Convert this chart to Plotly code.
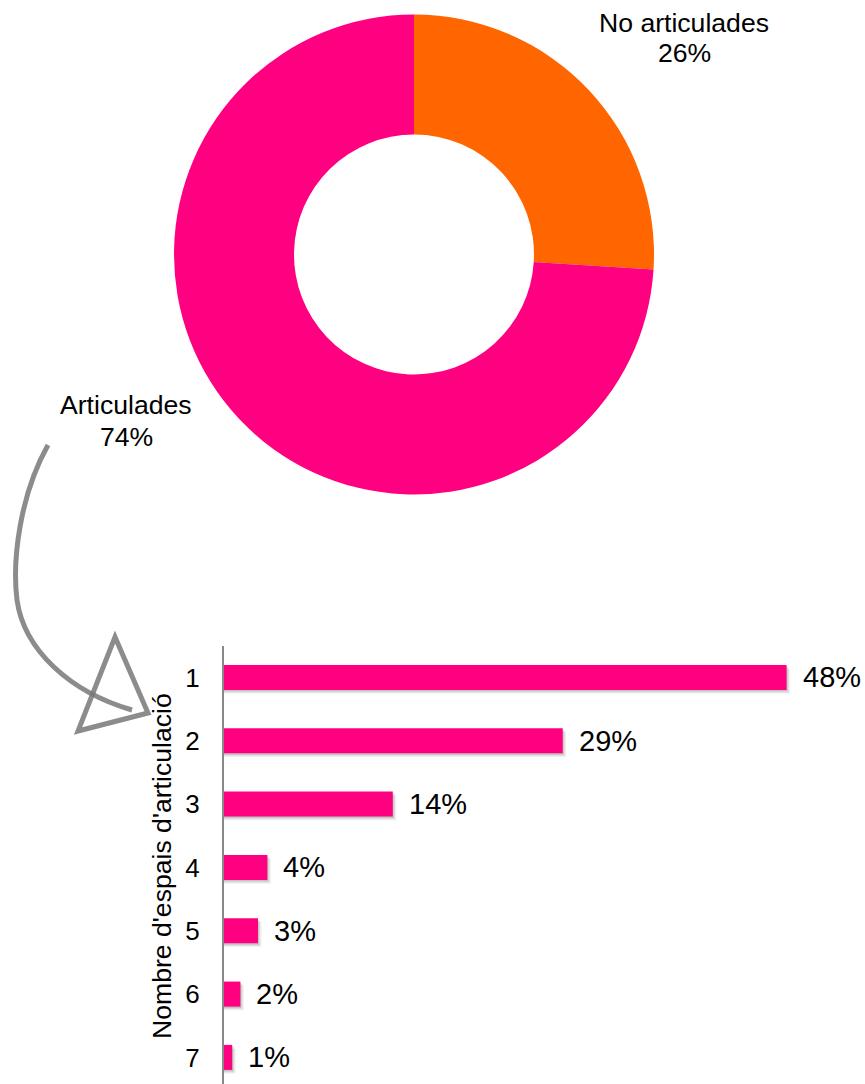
import plotly.graph_objects as go

W, H = 865, 1084

# ---- data ----
pie_labels = ["No articulades", "Articulades"]
pie_values = [26, 74]
pie_colors = ["#FF6600", "#FF0080"]

bar_categories = ["1", "2", "3", "4", "5", "6", "7"]
bar_values = [48, 28.9, 14.4, 3.7, 2.9, 1.4, 0.7]
bar_text = ["48%", "29%", "14%", "4%", "3%", "2%", "1%"]
axis_title = "Nombre d'espais d'articulació"

FONT = "Liberation Sans, Arial, sans-serif"

def px(x):
    return x / W

def py(y):
    return 1 - y / H

fig = go.Figure()

fig.add_trace(go.Pie(
    labels=pie_labels, values=pie_values, hole=0.5, sort=False,
    direction="clockwise", rotation=0,
    marker=dict(colors=pie_colors, line=dict(width=0)),
    textinfo="none", hoverinfo="label+percent", showlegend=False,
    domain=dict(x=[px(174), px(654)], y=[py(495), py(14)]),
))

# soft drop shadow behind bars (same data, nudged)
BW = 0.395
for dx, dy, a in [(0.30, 0.060, 0.06), (0.18, 0.040, 0.09), (0.08, 0.022, 0.10)]:
    fig.add_trace(go.Bar(
        x=[v + dx for v in bar_values], y=bar_categories, orientation="h",
        marker=dict(color=f"rgba(0,0,0,{a})", line=dict(width=0)),
        width=BW, offset=-BW / 2 + dy, showlegend=False, hoverinfo="skip",
    ))

fig.add_trace(go.Bar(
    x=bar_values, y=bar_categories, orientation="h",
    marker=dict(color="#FF0080", line=dict(width=0)),
    width=BW, offset=-BW / 2, showlegend=False, hoverinfo="x+y",
))

# bar value labels (y given as category index)
for i, (val, t) in enumerate(zip(bar_values, bar_text)):
    fig.add_annotation(x=val, y=i, xref="x", yref="y", text=t,
                       showarrow=False, xanchor="left", yanchor="middle",
                       xshift=14, font=dict(size=29, color="#000", family=FONT))

# pie labels (one annotation per line)
def label(x, y, txt):
    fig.add_annotation(x=px(x), y=py(y), xref="paper", yref="paper",
                       text=txt, showarrow=False,
                       xanchor="center", yanchor="middle",
                       font=dict(size=26.6, color="#000", family=FONT))

label(684, 23, pie_labels[0])
label(684, 53, f"{pie_values[0]}%")
label(126, 405, pie_labels[1])
label(126, 437, f"{pie_values[1]}%")

# axis title
fig.add_annotation(x=px(162), y=py(866), xref="paper", yref="paper",
                   text=axis_title, showarrow=False, textangle=-90,
                   xanchor="center", yanchor="middle",
                   font=dict(size=26.6, color="#000", family=FONT))

# hand-drawn style arrow
def path(cmds):
    out = []
    for c in cmds:
        if isinstance(c, str):
            out.append(c)
        else:
            out.append(f"{px(c[0]):.5f},{py(c[1]):.5f}")
    return " ".join(out)

curve = path(["M", (48, 445), "C", (20, 495), (12, 560), (17, 600),
              "C", (24, 650), (70, 692), (132, 710)])
head = path(["M", (115, 637), "L", (148, 713), "L", (78, 731), "Z"])
for p in (curve, head):
    fig.add_shape(type="path", path=p, xref="paper", yref="paper",
                  line=dict(color="rgba(120,120,120,0.85)", width=5))

fig.update_layout(
    width=W, height=H, margin=dict(l=0, r=0, t=0, b=0),
    paper_bgcolor="white", plot_bgcolor="white",
    font=dict(family=FONT, color="#000"),
    barmode="overlay",
    xaxis=dict(domain=[px(224), 1], range=[0, 54.69], visible=False,
               showgrid=False, zeroline=False, fixedrange=True),
    yaxis=dict(domain=[0, py(645.8)], range=[6.42, -0.5], type="category",
               showgrid=False, zeroline=False, showline=True,
               linecolor="#888888", linewidth=2, ticks="",
               ticklabelstandoff=17,
               tickfont=dict(size=26, color="#000", family=FONT)),
)

fig.write_html("out.html", config={"displayModeBar": False},
               post_script="document.body.style.margin='0';document.body.style.padding='0';")
